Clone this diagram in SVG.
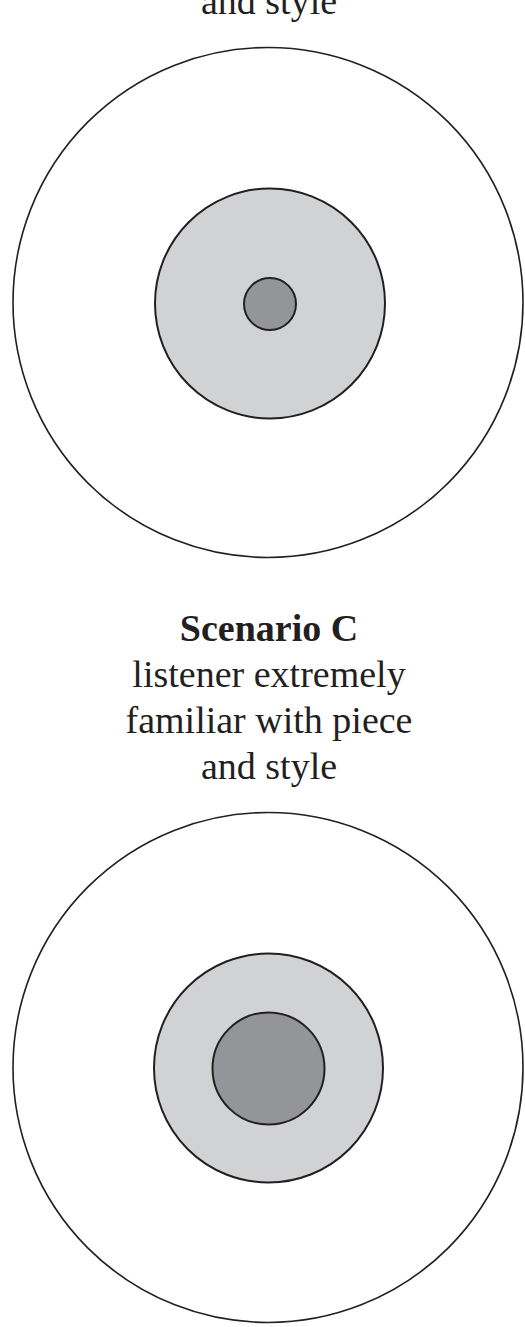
<svg xmlns="http://www.w3.org/2000/svg" width="525" height="1327" viewBox="0 0 525 1327">
<style>
.t{font-family:"Liberation Serif","Times New Roman",serif;font-size:38px;fill:#231f20;text-anchor:middle}
.b{font-weight:bold}
.outer{fill:#ffffff;stroke:#231f20;stroke-width:1.6}
.mid{fill:#d1d2d4;stroke:#231f20;stroke-width:2}
.core{fill:#939598;stroke:#231f20;stroke-width:2}
</style>
<rect width="525" height="1327" fill="#ffffff"/>
<g id="label-b-tail">
<text class="t" x="269" y="14">and style</text>
</g>
<g id="scenario-b">
<circle class="outer" cx="268" cy="302.5" r="255"/>
<circle class="mid" cx="270" cy="303.5" r="115"/>
<circle class="core" cx="270" cy="304" r="26"/>
</g>
<g id="label-c">
<text class="t b" x="269" y="641">Scenario C</text>
<text class="t" x="269" y="687">listener extremely</text>
<text class="t" x="269" y="733">familiar with piece</text>
<text class="t" x="269" y="779">and style</text>
</g>
<g id="scenario-c">
<circle class="outer" cx="268" cy="1067.5" r="255"/>
<circle class="mid" cx="268.5" cy="1068" r="114.5"/>
<circle class="core" cx="268.5" cy="1068.5" r="56"/>
</g>
<g id="connectors"></g>
</svg>
